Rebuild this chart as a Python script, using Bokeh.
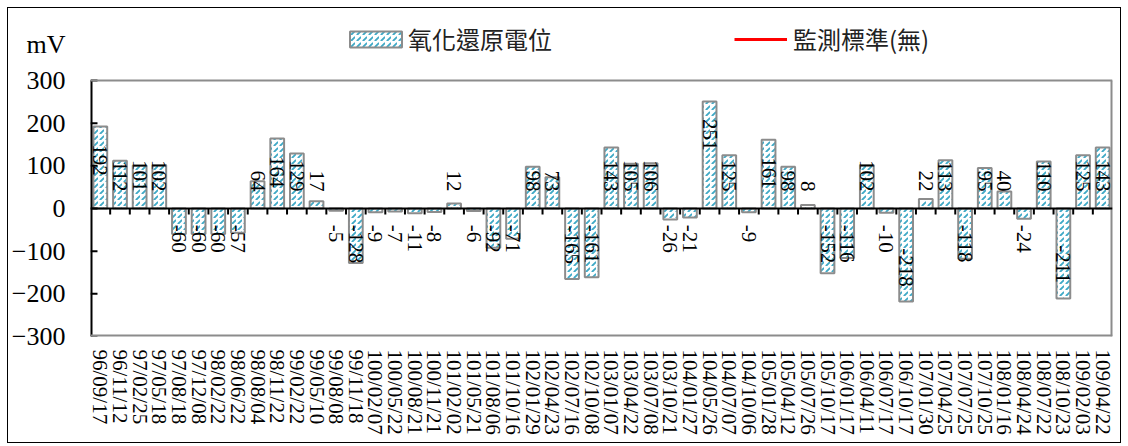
import math
from bokeh.plotting import figure
from bokeh.layouts import column, row
from bokeh.models import (ColumnDataSource, FactorRange, Range1d, FixedTicker, Span,
                          Legend, LegendItem, Spacer)
from bokeh.core.properties import value
from bokeh.embed import file_html
from bokeh.resources import INLINE

dates = ["96/09/17", "96/11/12", "97/02/25", "97/05/18", "97/08/18", "97/12/08", "98/02/22",
         "98/06/22", "98/08/04", "98/11/22", "99/02/22", "99/05/10", "99/08/08", "99/11/18",
         "100/02/07", "100/05/22", "100/08/21", "100/11/21", "101/02/02", "101/05/21",
         "101/08/06", "101/10/16", "102/01/29", "102/04/23", "102/07/16", "102/10/08",
         "103/01/07", "103/04/22", "103/07/08", "103/10/21", "104/01/27", "104/05/26",
         "104/07/07", "104/10/06", "105/01/28", "105/04/12", "105/07/26", "105/10/17",
         "106/01/17", "106/04/11", "106/07/17", "106/10/17", "107/01/30", "107/04/25",
         "107/07/25", "107/10/25", "108/01/16", "108/04/24", "108/07/22", "108/10/23",
         "109/02/03", "109/04/22"]
orp = [192, 112, 101, 102, -60, -60, -60, -57, 64, 164, 129, 17, -5, -128, -9, -7, -11, -8,
       12, -6, -92, -71, 98, 73, -165, -161, 143, 105, 106, -26, -21, 251, 125, -9, 161, 98,
       8, -152, -116, 102, -10, -218, 22, 113, -118, 95, 40, -24, 110, -211, 125, 143]
standard = [float("nan")]        # 監測標準: 無 (no standard value)
y_ticks = [-300, -200, -100, 0, 100, 200, 300]
series_names = ["氧化還原電位", "監測標準(無)"]
unit = "mV"

SERIF = "Liberation Serif"
CJK = "Noto Sans CJK TC"
HATCH = "#3FA9C6"
EDGE = "#8C8C8C"

# layout geometry (pixels)
W, H = 1112, 434
LEFT, RIGHT, BOTTOM = 80, 8, 106
HEADER = 72                      # header strip above the 300 line, inside the frame
plot_h = H - BOTTOM - HEADER     # pixel height of the -300..300 area
ymin, ymax = y_ticks[0], y_ticks[-1]
ppu = plot_h / (ymax - ymin)     # pixels per unit
y_top = ymax + HEADER / ppu
unit_y = round(ymax + (HEADER - 36) / ppu)
cat_px = (W - LEFT - RIGHT) / len(dates)

p = figure(x_range=FactorRange(factors=dates), y_range=Range1d(ymin, y_top), title=None,
           width=W, height=H, output_backend="svg", toolbar_location=None,
           min_border_left=LEFT, min_border_right=RIGHT, min_border_top=0,
           min_border_bottom=BOTTOM)
p.styles = {"outline": "1px solid black"}
p.background_fill_color = "white"
p.border_fill_color = "white"
p.outline_line_color = None
p.xgrid.visible = False
p.ygrid.visible = False

src = ColumnDataSource(dict(date=dates, orp=orp))
bars = p.vbar(x="date", top="orp", width=0.7, source=src, fill_color="white",
              hatch_pattern="right_diagonal_dash", hatch_color=HATCH, hatch_scale=6,
              hatch_weight=1.8, line_color=EDGE, line_width=2)

std_src = ColumnDataSource(dict(x=dates[:len(standard)], y=standard))
std_line = p.line(x="x", y="y", source=std_src, line_color="red", line_width=3)

# plot-area border (gray): top, bottom, right
p.add_layout(Span(location=ymax, dimension="width", line_color=EDGE, line_width=2))
p.add_layout(Span(location=ymin, dimension="width", line_color=EDGE, line_width=4))
n = len(dates)
p.segment(x0=[n], x1=[n], y0=[ymin], y1=[ymax], line_color=EDGE, line_width=4)

# zero axis line with category boundary ticks
p.add_layout(Span(location=0, dimension="width", line_color="black", line_width=2))
bx = list(range(1, n))
p.segment(x0=bx, x1=bx, y0=[0] * len(bx), y1=[-6 / ppu] * len(bx), line_color="black",
          line_width=2)

# left value axis line and inward ticks
p.segment(x0=[0], x1=[0], y0=[ymin], y1=[ymax], line_color="black", line_width=4)
p.segment(x0=[0] * len(y_ticks), x1=[7 / cat_px] * len(y_ticks), y0=y_ticks, y1=y_ticks,
          line_color="black", line_width=2)

# data labels
pos = [(d, v) for d, v in zip(dates, orp) if v >= 0]
neg = [(d, v) for d, v in zip(dates, orp) if v < 0]
p.text(x=[d for d, _ in pos], y=[max(40, v - 115) for _, v in pos], text=[str(v) for _, v in pos],
       angle=-math.pi / 2, text_align="right", text_baseline="middle",
       text_font=value(SERIF), text_font_size="21px", text_color="black")
p.text(x=[d for d, _ in neg], y=[min(-38, v + 125) for _, v in neg], text=[str(v) for _, v in neg],
       angle=-math.pi / 2, text_align="left", text_baseline="middle",
       text_font=value(SERIF), text_font_size="21px", text_color="black")

# y axis: tick labels plus the unit label in the header strip
p.yaxis.ticker = FixedTicker(ticks=y_ticks + [unit_y])
p.yaxis.major_label_overrides = {unit_y: unit}
p.yaxis.axis_line_color = None
p.yaxis.major_tick_line_color = None
p.yaxis.minor_tick_line_color = None
p.yaxis.major_tick_in = 0
p.yaxis.major_tick_out = 0
p.yaxis.major_label_standoff = 25
p.yaxis.major_label_text_font = SERIF
p.yaxis.major_label_text_font_size = "26px"
p.yaxis.major_label_text_color = "black"

p.xaxis.axis_line_color = None
p.xaxis.major_tick_line_color = None
p.xaxis.minor_tick_line_color = None
p.xaxis.major_label_orientation = -math.pi / 2
p.xaxis.major_label_standoff = 7
p.xaxis.major_label_text_font = SERIF
p.xaxis.major_label_text_font_size = "21px"
p.xaxis.major_label_text_color = "black"

legend_y = H - BOTTOM - 48
common = dict(orientation="horizontal", padding=0, margin=0, label_height=20,
              border_line_color=None, background_fill_alpha=0, label_text_font=CJK,
              label_text_font_size="24px", label_text_color="#222222")
leg_bar = Legend(items=[LegendItem(label=series_names[0], renderers=[bars])],
                 location=(253, legend_y), glyph_width=65, label_standoff=0, **common)
leg_std = Legend(items=[LegendItem(label=series_names[1], renderers=[std_line])],
                 location=(644, legend_y), glyph_width=53, label_standoff=6, **common)
p.add_layout(leg_bar)
p.add_layout(leg_std)

page = column(Spacer(height=8), row(Spacer(width=8), p))
open("out.html", "w").write(file_html(page, INLINE))
